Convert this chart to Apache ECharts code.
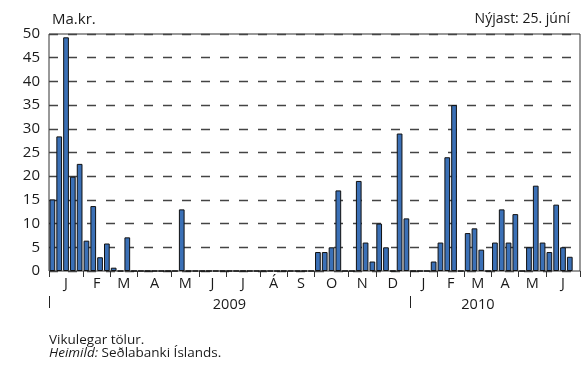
<!DOCTYPE html>
<html>
<head>
<meta charset="utf-8">
<style>
  html, body { margin: 0; padding: 0; background: #fff; }
  #chart { width: 581px; height: 365px; }
</style>
<script src="https://cdn.jsdelivr.net/npm/echarts@6/dist/echarts.min.js"></script>
</head>
<body>
<div id="chart"></div>
<script>
// Month initials along the axis and how many weekly observations fall in each
const monthLabels = ['J', 'F', 'M', 'A', 'M', 'J', 'J', 'Á', 'S', 'O', 'N', 'D',
                     'J', 'F', 'M', 'A', 'M', 'J'];
const monthWeeks = [5, 4, 4, 5, 4, 4, 5, 4, 4, 5, 4, 5,
                    4, 4, 4, 4, 4, 5];
const yearLabels = ['2009', '2010'];
const yearWeeks = [53, 25];

// Weekly values, ma.kr.
const weeklyValues = [
  15.1, 28.4, 49.3, 19.9, 22.6,   // jan 2009
  6.4, 13.7, 2.9, 5.8,            // feb
  0.7, 0, 7.1, 0,                 // mar
  0, 0, 0, 0, 0,                  // apr
  0, 13, 0, 0,                    // maí
  0, 0, 0, 0,                     // jún
  0, 0, 0, 0, 0,                  // júl
  0, 0, 0, 0,                     // ágú
  0, 0, 0, 0,                     // sep
  4, 4, 5, 17, 0,                 // okt
  0, 19, 6, 2,                    // nóv
  10, 5, 0, 29, 11.1,             // des
  0, 0, 0, 2,                     // jan 2010
  6, 24, 35, 0,                   // feb
  8, 9, 4.5, 0,                   // mar
  6, 13, 6, 12,                   // apr
  0, 5, 18, 6,                    // maí
  4, 14, 5, 3, null               // jún
];

const yTicks = { min: 0, max: 50, step: 5 };

// Derived helpers: week categories, month boundaries and month mid-points
const categories = [];
const monthStarts = [0];
const monthMids = [];
const monthByMid = {};
let pos = 0;
monthWeeks.forEach((n, i) => {
  for (let k = 0; k < n; k++) categories.push(monthLabels[i] + '-' + (i < 12 ? 2009 : 2010) + '-' + (k + 1));
  const mid = pos + n / 2;
  monthMids.push(mid);
  monthByMid[mid.toFixed(2)] = monthLabels[i];
  pos += n;
  monthStarts.push(pos);
});
const totalWeeks = pos;

const yearStarts = [0, yearWeeks[0]];
const yearPos = [yearWeeks[0] / 2, 63];
const yearByPos = {};
yearPos.forEach((p, i) => { yearByPos[p.toFixed(2)] = yearLabels[i]; });

const FONT = 'Open Sans';
const chart = echarts.init(document.getElementById('chart'), null, { renderer: 'canvas' });

chart.setOption({
  animation: false,
  grid: {
    left: 49, right: 1, top: 34, bottom: 94,
    show: true, borderColor: '#333', borderWidth: 1, backgroundColor: 'transparent'
  },
  xAxis: [
    {
      type: 'category',
      data: categories,
      boundaryGap: true,
      axisLine: { show: false },
      axisTick: { show: false },
      axisLabel: { show: false },
      splitLine: { show: false }
    },
    {
      type: 'value',
      min: 0, max: totalWeeks,
      position: 'bottom',
      axisLine: { show: false },
      splitLine: { show: false },
      axisTick: {
        show: true, customValues: monthStarts, length: 6,
        lineStyle: { color: '#333', width: 1 }
      },
      axisLabel: {
        customValues: monthMids,
        formatter: v => monthByMid[Number(v).toFixed(2)] || '',
        margin: 5,
        fontFamily: FONT, fontSize: 14.5, color: '#1a1a1a'
      }
    },
    {
      type: 'value',
      min: 0, max: totalWeeks,
      position: 'bottom',
      offset: 25,
      axisLine: { show: false },
      splitLine: { show: false },
      axisTick: {
        show: true, customValues: yearStarts, length: 12,
        lineStyle: { color: '#222', width: 1 }
      },
      axisLabel: {
        customValues: yearPos,
        formatter: v => yearByPos[Number(v).toFixed(2)] || '',
        margin: 1,
        fontFamily: FONT, fontSize: 14.5, color: '#1a1a1a'
      }
    }
  ],
  yAxis: {
    type: 'value',
    min: yTicks.min, max: yTicks.max, interval: yTicks.step,
    axisLine: { show: false },
    axisTick: { show: false },
    axisLabel: { margin: 9, fontFamily: FONT, fontSize: 15, color: '#1a1a1a' },
    splitLine: { lineStyle: { color: '#444', width: 1.3, type: [9, 10] } }
  },
  series: [{
    type: 'bar',
    xAxisIndex: 0,
    data: weeklyValues,
    barCategoryGap: '16%',
    itemStyle: { color: '#3b70b6', borderColor: '#111', borderWidth: 1 }
  }],
  graphic: [
    { type: 'text', left: 52, top: 12, style: { text: 'Ma.kr.', font: '15px "Open Sans"', fill: '#1a1a1a' } },
    { type: 'text', right: 11, top: 12, style: { text: 'Nýjast: 25. júní', font: '14px "Open Sans"', fill: '#1a1a1a', textAlign: 'right' } },
    { type: 'text', left: 49, top: 333, style: { text: 'Vikulegar tölur.', font: '13.5px "Open Sans"', fill: '#1a1a1a' } },
    { type: 'text', left: 49, top: 346, style: {
        text: '{i|Heimild:} Seðlabanki Íslands.',
        font: '13.5px "Open Sans"', fill: '#1a1a1a',
        rich: { i: { fontStyle: 'italic', fontFamily: FONT, fontSize: 13.5, fill: '#1a1a1a' } }
      } }
  ]
});
</script>
</body>
</html>
